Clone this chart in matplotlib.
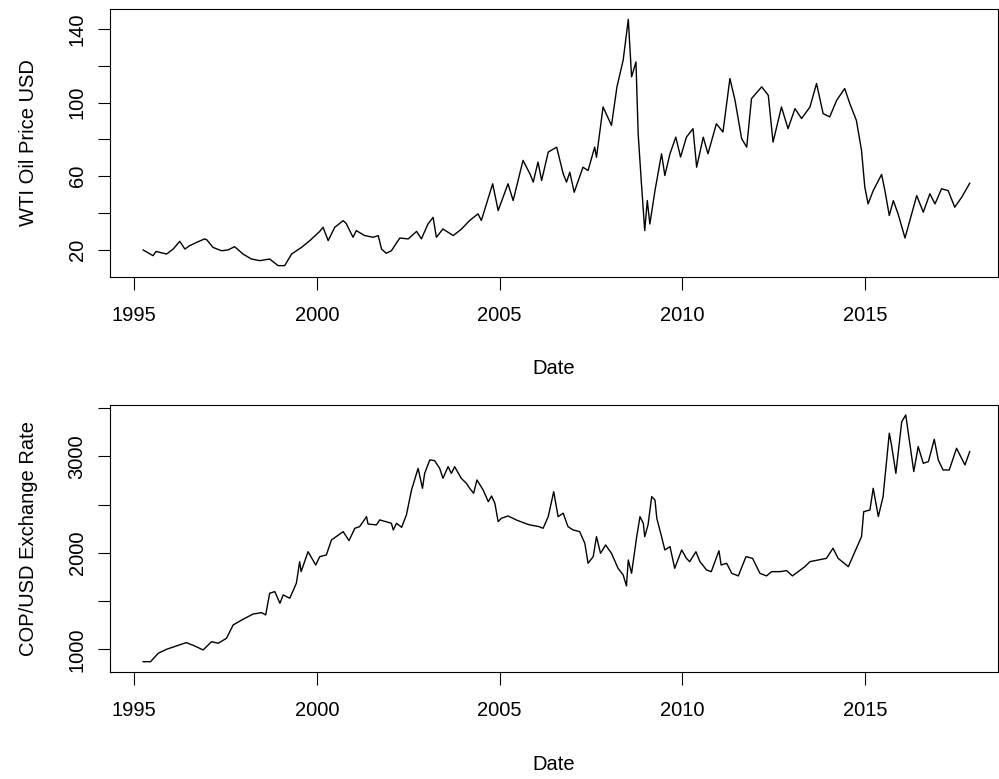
import matplotlib
matplotlib.use("Agg")
import matplotlib.pyplot as plt

plt.rcParams['font.family'] = ['Liberation Sans', 'DejaVu Sans']

# WTI crude oil price, USD
wti_year = [1995.25, 1995.52, 1995.60, 1995.89, 1996.07, 1996.25, 1996.39, 1996.52,
            1996.71, 1996.93, 1996.99, 1997.16, 1997.39, 1997.57, 1997.75, 1997.98,
            1998.21, 1998.44, 1998.71, 1998.94, 1999.12, 1999.31, 1999.58, 1999.81,
            2000.08, 2000.17, 2000.31, 2000.49, 2000.72, 2000.80, 2000.99, 2001.08,
            2001.31, 2001.54, 2001.68, 2001.77, 2001.90, 2002.04, 2002.27, 2002.50,
            2002.73, 2002.86, 2003.04, 2003.18, 2003.27, 2003.45, 2003.73, 2003.96,
            2004.18, 2004.41, 2004.50, 2004.81, 2004.96, 2005.23, 2005.37, 2005.64,
            2005.83, 2005.92, 2006.05, 2006.15, 2006.33, 2006.56, 2006.74, 2006.83,
            2006.92, 2007.04, 2007.28, 2007.42, 2007.60, 2007.65, 2007.83, 2008.06,
            2008.21, 2008.38, 2008.52, 2008.61, 2008.73, 2008.79, 2008.88, 2008.97,
            2009.04, 2009.11, 2009.25, 2009.43, 2009.52, 2009.66, 2009.82, 2009.95,
            2010.11, 2010.29, 2010.39, 2010.57, 2010.70, 2010.93, 2011.11, 2011.30,
            2011.44, 2011.62, 2011.76, 2011.89, 2012.17, 2012.35, 2012.48, 2012.71,
            2012.89, 2013.08, 2013.26, 2013.49, 2013.67, 2013.85, 2014.03, 2014.22,
            2014.44, 2014.58, 2014.76, 2014.90, 2014.99, 2015.08, 2015.22, 2015.45,
            2015.54, 2015.66, 2015.77, 2015.90, 2016.09, 2016.22, 2016.41, 2016.59,
            2016.77, 2016.91, 2017.09, 2017.27, 2017.45, 2017.64, 2017.86]
wti_price = [20.0, 16.9, 19.2, 17.8, 20.5, 24.7, 20.5, 22.3,
             24.1, 26.0, 25.5, 21.4, 19.6, 20.0, 21.8, 17.8,
             15.1, 14.2, 15.1, 11.5, 11.5, 17.8, 21.4, 25.1,
             30.1, 32.3, 25.1, 32.3, 35.9, 34.5, 26.9, 30.5,
             27.8, 26.9, 27.8, 20.5, 18.2, 19.6, 26.5, 26.0,
             30.1, 26.0, 34.1, 37.7, 26.9, 31.4, 27.8, 31.4,
             36.0, 39.6, 36.0, 55.9, 41.4, 55.9, 46.8, 68.6,
             61.3, 56.8, 67.7, 57.7, 73.1, 75.8, 61.3, 56.8,
             62.2, 51.3, 64.9, 63.1, 75.8, 70.3, 97.6, 87.6,
             108.5, 123.0, 145.1, 113.9, 122.0, 83.1, 55.9, 30.5,
             46.8, 34.1, 52.2, 72.2, 60.4, 72.2, 81.2, 70.4,
             81.2, 85.8, 64.9, 81.2, 72.2, 88.5, 84.0, 113.0,
             101.2, 80.4, 75.8, 102.1, 108.5, 103.9, 78.5, 97.6,
             85.8, 96.7, 91.3, 97.6, 110.3, 94.0, 92.2, 101.2,
             107.6, 99.4, 90.3, 74.0, 54.1, 45.0, 52.2, 61.0,
             52.2, 38.7, 46.8, 39.6, 26.5, 35.9, 49.5, 40.5,
             50.5, 45.0, 53.2, 52.2, 43.2, 48.6, 56.2]

# COP/USD exchange rate
cop_year = [1995.25, 1995.45, 1995.66, 1995.89, 1996.16, 1996.43, 1996.66, 1996.89,
            1997.12, 1997.30, 1997.53, 1997.71, 1997.98, 1998.26, 1998.49, 1998.60,
            1998.71, 1998.85, 1998.99, 1999.08, 1999.26, 1999.44, 1999.53, 1999.57,
            1999.76, 1999.97, 2000.08, 2000.26, 2000.40, 2000.72, 2000.88, 2001.04,
            2001.17, 2001.36, 2001.40, 2001.63, 2001.72, 2002.04, 2002.09, 2002.18,
            2002.32, 2002.45, 2002.59, 2002.77, 2002.89, 2002.95, 2003.09, 2003.22,
            2003.36, 2003.45, 2003.59, 2003.68, 2003.77, 2003.95, 2004.09, 2004.18,
            2004.29, 2004.38, 2004.55, 2004.69, 2004.78, 2004.87, 2004.96, 2005.05,
            2005.23, 2005.46, 2005.74, 2005.83, 2006.08, 2006.19, 2006.33, 2006.48,
            2006.60, 2006.74, 2006.87, 2007.01, 2007.19, 2007.33, 2007.42, 2007.56,
            2007.65, 2007.76, 2007.90, 2008.06, 2008.24, 2008.38, 2008.47, 2008.52,
            2008.61, 2008.75, 2008.84, 2008.93, 2008.97, 2009.06, 2009.16, 2009.25,
            2009.30, 2009.43, 2009.52, 2009.66, 2009.79, 2009.98, 2010.11, 2010.20,
            2010.37, 2010.48, 2010.66, 2010.79, 2011.00, 2011.06, 2011.21, 2011.35,
            2011.53, 2011.74, 2011.92, 2012.12, 2012.30, 2012.44, 2012.67, 2012.85,
            2013.01, 2013.35, 2013.49, 2013.71, 2013.94, 2014.12, 2014.26, 2014.54,
            2014.76, 2014.90, 2014.96, 2015.13, 2015.22, 2015.36, 2015.49, 2015.66,
            2015.72, 2015.84, 2016.00, 2016.11, 2016.22, 2016.33, 2016.45, 2016.59,
            2016.73, 2016.89, 2017.00, 2017.13, 2017.30, 2017.50, 2017.73, 2017.86]
cop_rate = [871, 871, 958, 1000, 1034, 1069, 1034, 993,
            1079, 1062, 1114, 1252, 1311, 1366, 1380, 1356,
            1581, 1598, 1477, 1564, 1529, 1685, 1909, 1805,
            2012, 1874, 1961, 1978, 2134, 2220, 2127, 2255,
            2272, 2376, 2299, 2290, 2342, 2307, 2238, 2307,
            2265, 2393, 2652, 2877, 2670, 2825, 2964, 2957,
            2877, 2774, 2894, 2825, 2894, 2774, 2722, 2670,
            2618, 2756, 2652, 2531, 2590, 2514, 2324, 2359,
            2383, 2341, 2300, 2290, 2272, 2255, 2376, 2635,
            2376, 2411, 2272, 2238, 2220, 2100, 1892, 1961,
            2168, 1995, 2082, 1995, 1840, 1771, 1657, 1926,
            1788, 2168, 2376, 2307, 2168, 2290, 2583, 2548,
            2359, 2168, 2030, 2065, 1840, 2030, 1943, 1909,
            2012, 1909, 1823, 1805, 2022, 1874, 1892, 1788,
            1761, 1961, 1943, 1788, 1761, 1805, 1805, 1816,
            1761, 1857, 1909, 1926, 1943, 2048, 1943, 1857,
            2048, 2168, 2427, 2445, 2670, 2376, 2583, 3241,
            3120, 2825, 3361, 3430, 3137, 2843, 3103, 2929,
            2947, 3178, 2964, 2860, 2860, 3085, 2912, 3050]

x_ticks = [1995, 2000, 2005, 2010, 2015]
wti_ticks = [20, 40, 60, 80, 100, 120, 140]
wti_labels = ['20', '', '60', '', '100', '', '140']
cop_ticks = [1000, 1500, 2000, 2500, 3000, 3500]
cop_labels = ['1000', '', '2000', '', '3000', '']

W, H = 999, 779
fig = plt.figure(figsize=(W / 100, H / 100), dpi=100)

left, right = 110.3, 997.5
fs = 14.5


def make_axes(top, bottom):
    return fig.add_axes([left / W, 1 - bottom / H, (right - left) / W, (bottom - top) / H])


def style(ax, ylab, ymid, date_y):
    for s in ax.spines.values():
        s.set_linewidth(0.8)
    ax.set_xlim(1994.35, 2018.62)
    ax.set_xticks(x_ticks)
    ax.tick_params(direction='out', length=9, width=0.8, labelsize=fs)
    ax.tick_params(axis='x', pad=12)
    ax.tick_params(axis='y', pad=8)
    for t in ax.get_yticklabels():
        t.set_rotation(90)
        t.set_va('center')
    fig.text(28.3 / W, 1 - ymid / H, ylab, rotation=90, ha='center', va='center', fontsize=fs)
    fig.text(553.9 / W, 1 - date_y / H, 'Date', ha='center', va='baseline', fontsize=fs)


ax1 = make_axes(8.7, 276.7)
ax1.plot(wti_year, wti_price, color='black', lw=1.0)
ax1.set_ylim(5.5, 150.9)
ax1.set_yticks(wti_ticks)
ax1.set_yticklabels(wti_labels)
style(ax1, 'WTI Oil Price USD', 142.7, 374.4)

ax2 = make_axes(404.7, 672.3)
ax2.plot(cop_year, cop_rate, color='black', lw=1.0)
ax2.set_ylim(761, 3537)
ax2.set_yticks(cop_ticks)
ax2.set_yticklabels(cop_labels)
style(ax2, 'COP/USD Exchange Rate', 538.5, 770)

fig.savefig('out.png', dpi=100)
